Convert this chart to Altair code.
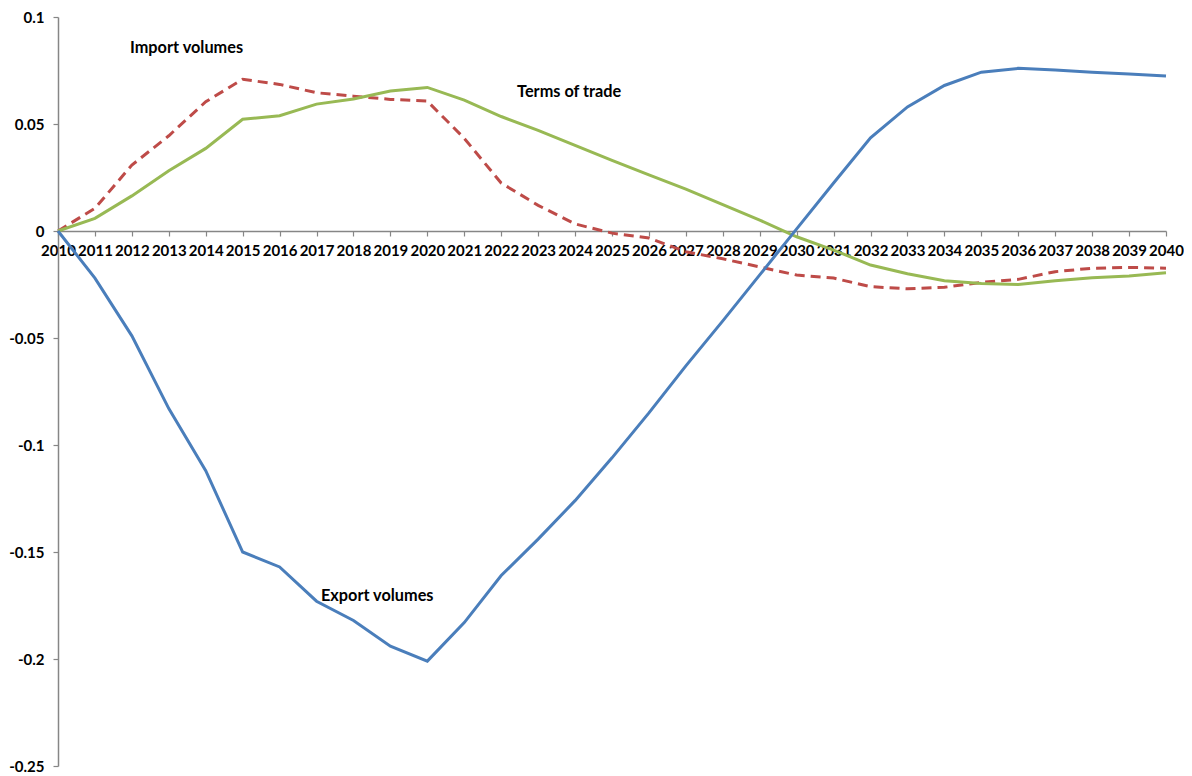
import altair as alt
import pandas as pd

years = list(range(2010, 2041))

export_volumes = [0.0, -0.022, -0.049, -0.083, -0.112, -0.150, -0.157, -0.173, -0.182, -0.194,
                  -0.201, -0.183, -0.161, -0.144, -0.126, -0.106, -0.085, -0.063, -0.042, -0.0205,
                  0.001, 0.0224, 0.0435, 0.058, 0.068, 0.0742, 0.076, 0.0752, 0.0742, 0.0734, 0.0724]

import_volumes = [0.0, 0.0106, 0.0308, 0.0445, 0.0604, 0.0709, 0.0685, 0.0646, 0.063, 0.0615,
                  0.0607, 0.0433, 0.0224, 0.012, 0.0033, -0.001, -0.0033, -0.0097, -0.013, -0.0168,
                  -0.0206, -0.022, -0.026, -0.027, -0.0263, -0.024, -0.0226, -0.019, -0.0174, -0.017, -0.0174]

terms_of_trade = [0.0, 0.0059, 0.0164, 0.0282, 0.0386, 0.0522, 0.0539, 0.0593, 0.0617, 0.0654,
                  0.0671, 0.0612, 0.0535, 0.047, 0.040, 0.033, 0.0262, 0.0196, 0.0123, 0.0051,
                  -0.0027, -0.0089, -0.0159, -0.020, -0.0232, -0.0245, -0.025, -0.0232, -0.0218, -0.021, -0.0195]

y_ticks = [-0.25, -0.2, -0.15, -0.1, -0.05, 0, 0.05, 0.1]

label_texts = ["Import volumes", "Terms of trade", "Export volumes"]
label_x = [2011.95, 2022.43, 2017.12]
label_y = [0.0855, 0.065, -0.1705]

FONT = "Lato"
W, H = 1108, 749

x_scale = alt.Scale(domain=[2010, 2040], nice=False, zero=False)
y_scale = alt.Scale(domain=[-0.25, 0.1], nice=False, zero=False)

x_axis = alt.Axis(values=years, format="d", title=None, offset=-535, grid=False,
                  domainColor="#868686", tickColor="#868686", tickSize=5, domainWidth=1.5,
                  tickWidth=1.2,
                  labelFont=FONT, labelFontSize=15, labelFontWeight="bold", labelColor="black",
                  labelPadding=7, labelOverlap=False, labelFlush=False, labelBound=False)
y_axis = alt.Axis(values=y_ticks, title=None, grid=False, labelExpr="'' + datum.value",
                  domainColor="#868686", tickColor="#868686", tickSize=5, domainWidth=1.5,
                  tickWidth=1.2,
                  labelFont=FONT, labelFontSize=15, labelFontWeight="bold", labelColor="black",
                  labelPadding=9, labelOverlap=False, labelFlush=False, labelBound=False)


def line(values, color, dash=None):
    df = pd.DataFrame({"year": years, "value": values})
    kw = dict(color=color, strokeWidth=3, clip=False)
    if dash:
        kw["strokeDash"] = dash
    return alt.Chart(df).mark_line(**kw).encode(
        x=alt.X("year:Q", scale=x_scale, axis=x_axis),
        y=alt.Y("value:Q", scale=y_scale, axis=y_axis),
    )


labels_df = pd.DataFrame({"text": label_texts, "x": label_x, "y": label_y})
labels = alt.Chart(labels_df).mark_text(
    align="left", baseline="middle", font=FONT, fontSize=16.3, fontWeight="bold", color="black"
).encode(
    x=alt.X("x:Q", scale=x_scale, axis=x_axis),
    y=alt.Y("y:Q", scale=y_scale, axis=y_axis),
    text="text:N",
)

chart = alt.layer(
    line(import_volumes, "#BE4B48", [10, 6]),
    line(terms_of_trade, "#98B954"),
    line(export_volumes, "#4A7EBB"),
    labels,
).properties(
    width=W, height=H,
    autosize=alt.AutoSizeParams(type="none"),
    padding={"left": 50, "top": 9, "right": 18, "bottom": 10},
    background="white",
).configure_view(stroke="transparent", strokeWidth=0)

chart.save("out.html", embed_options={"renderer": "svg", "actions": False})
